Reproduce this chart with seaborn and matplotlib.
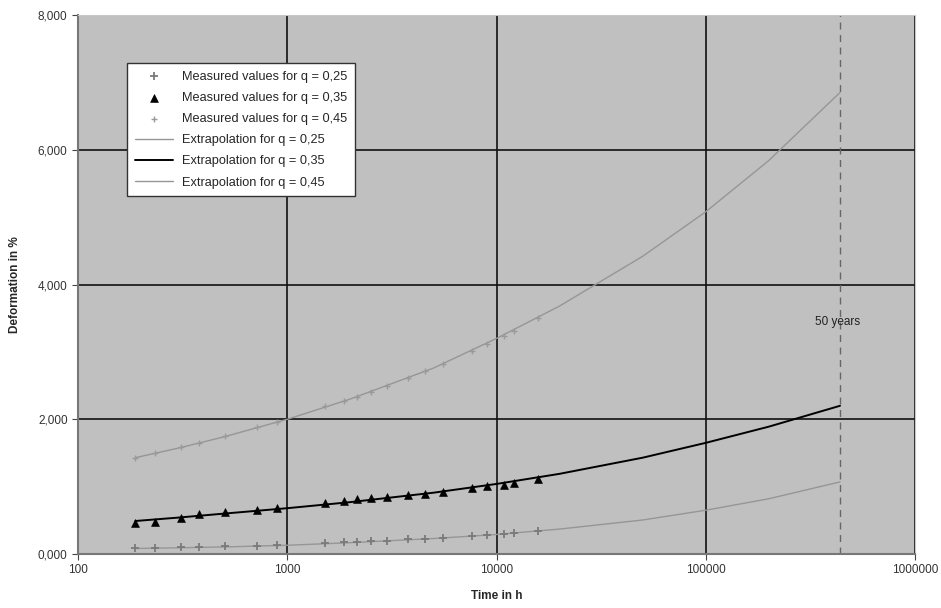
import numpy as np
import pandas as pd
import seaborn as sns
import matplotlib
matplotlib.use("Agg")
import matplotlib.pyplot as plt
from matplotlib.ticker import FuncFormatter, FixedLocator, NullLocator

# measured times (h), same for all three load levels
time_h = [188, 234, 312, 380, 506, 720, 889, 1510, 1862, 2149, 2508, 2992,
          3770, 4550, 5550, 7640, 9020, 10870, 12140, 15800]
meas_q25 = [0.085, 0.088, 0.097, 0.104, 0.112, 0.124, 0.131, 0.160, 0.172, 0.180,
            0.188, 0.200, 0.216, 0.230, 0.245, 0.270, 0.285, 0.300, 0.312, 0.345]
meas_q35 = [0.46, 0.48, 0.53, 0.59, 0.62, 0.66, 0.69, 0.76, 0.79, 0.82,
            0.83, 0.85, 0.87, 0.89, 0.92, 0.98, 1.01, 1.03, 1.05, 1.11]
meas_q45 = [1.43, 1.50, 1.59, 1.65, 1.75, 1.88, 1.96, 2.19, 2.27, 2.33,
            2.40, 2.49, 2.61, 2.71, 2.82, 3.01, 3.12, 3.24, 3.31, 3.50]

# extrapolation curves
ext_time = [188, 300, 500, 1000, 2000, 5000, 10000, 20000, 50000, 100000, 200000, 438000]
ext_q25 = [0.082, 0.092, 0.105, 0.130, 0.168, 0.230, 0.290, 0.370, 0.505, 0.650, 0.820, 1.070]
ext_q35 = [0.49, 0.54, 0.60, 0.68, 0.77, 0.91, 1.04, 1.19, 1.43, 1.65, 1.89, 2.20]
ext_q45 = [1.43, 1.57, 1.74, 2.00, 2.30, 2.76, 3.20, 3.68, 4.42, 5.08, 5.84, 6.85]

fifty_years_h = 438000
x_ticks = [100, 1000, 10000, 100000, 1000000]
y_ticks = [0, 2, 4, 6, 8]

sns.set_style("ticks")
plt.rcParams['font.family'] = ['Liberation Sans', 'DejaVu Sans']

meas = pd.DataFrame({"t": time_h, "q25": meas_q25, "q35": meas_q35, "q45": meas_q45})
ext = pd.DataFrame({"t": ext_time, "q25": ext_q25, "q35": ext_q35, "q45": ext_q45})

fig = plt.figure(figsize=(9.41, 6.08), dpi=100)
ax = fig.add_axes([0.0829, 0.0888, 0.8895, 0.8865])
ax.set_facecolor("#c0c0c0")
ax.set_xscale("log")

sns.lineplot(data=ext, x="t", y="q25", ax=ax, color="#969696", linewidth=1.0,
             label="Extrapolation for q = 0,25", zorder=3)
sns.lineplot(data=ext, x="t", y="q35", ax=ax, color="black", linewidth=1.4,
             label="Extrapolation for q = 0,35", zorder=3)
sns.lineplot(data=ext, x="t", y="q45", ax=ax, color="#969696", linewidth=1.0,
             label="Extrapolation for q = 0,45", zorder=3)

sns.scatterplot(data=meas, x="t", y="q25", ax=ax, marker="+", color="#7a7a7a",
                s=30, linewidth=1.3, label="Measured values for q = 0,25", zorder=4)
sns.scatterplot(data=meas, x="t", y="q35", ax=ax, marker="^", color="black",
                edgecolor="black", s=32, label="Measured values for q = 0,35", zorder=4)
sns.scatterplot(data=meas, x="t", y="q45", ax=ax, marker="+", color="#9a9a9a",
                s=14, linewidth=1.0, label="Measured values for q = 0,45", zorder=4)

ax.axvline(fifty_years_h, color="#666666", linestyle=(0, (5, 4)), linewidth=1.0, zorder=2)
ax.text(fifty_years_h * 0.97, 3.45, "50 years", fontsize=8.5, ha="center", va="center",
        color="#222222", zorder=5)

ax.set_xlim(100, 1000000)
ax.set_ylim(0, 8)
ax.xaxis.set_major_locator(FixedLocator(x_ticks))
ax.xaxis.set_minor_locator(NullLocator())
ax.xaxis.set_major_formatter(FuncFormatter(lambda v, p: f"{int(round(v))}"))
ax.yaxis.set_major_locator(FixedLocator(y_ticks))
ax.yaxis.set_major_formatter(FuncFormatter(lambda v, p: f"{v:.3f}".replace(".", ",")))

ax.grid(True, which="major", color="#111111", linewidth=1.2, zorder=1)
ax.set_axisbelow(True)
ax.tick_params(axis="both", labelsize=8.5, labelcolor="#333333", length=4,
               color="#444444", direction="out")
for side in ["top", "right"]:
    ax.spines[side].set_color("#c8c8c8")
for side in ["left", "bottom"]:
    ax.spines[side].set_color("#777777")
    ax.spines[side].set_linewidth(1.5)

ax.set_xlabel("Time in h", fontsize=8.5, fontweight="bold", labelpad=10)
ax.set_ylabel("Deformation in %", fontsize=8.5, fontweight="bold", labelpad=12)

handles, labels = ax.get_legend_handles_labels()
order = [3, 4, 5, 0, 1, 2]
leg = ax.legend([handles[i] for i in order], [labels[i] for i in order],
                loc="upper left", bbox_to_anchor=(0.0585, 0.911), fontsize=9.2,
                frameon=True, fancybox=False, handlelength=3.0, borderpad=0.6,
                labelspacing=0.72, framealpha=1, handletextpad=0.7,
                borderaxespad=0)
leg.get_frame().set_edgecolor("#333333")
leg.get_frame().set_linewidth(1.0)

fig.savefig("out.png", dpi=100, facecolor="white")
